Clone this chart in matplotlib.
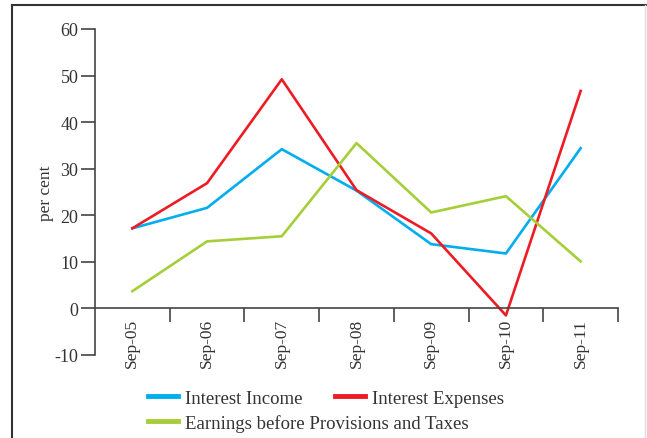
import matplotlib.pyplot as plt
from matplotlib.lines import Line2D

plt.rcParams['font.family'] = ['Liberation Serif', 'DejaVu Serif']
plt.rcParams['axes.unicode_minus'] = False

# Data (per cent)
periods = ['Sep-05', 'Sep-06', 'Sep-07', 'Sep-08', 'Sep-09', 'Sep-10', 'Sep-11']
interest_income = [17.2, 21.6, 34.2, 25.3, 13.8, 11.8, 34.4]
interest_expenses = [17.2, 26.9, 49.2, 25.4, 16.1, -1.5, 46.7]
earnings_bpt = [3.7, 14.4, 15.5, 35.5, 20.6, 24.1, 10.1]

blue = '#00AEEF'
red = '#ED1C24'
green = '#A6CE39'
txt = '#333333'

fig = plt.figure(figsize=(6.47, 4.39), dpi=100)
W, H = 647, 439
ax = fig.add_axes([95 / W, 1 - 356 / H, (618 - 95) / W, (356 - 30) / H])

x = list(range(len(periods)))
ax.plot(x, interest_income, color=blue, lw=1.9)
ax.plot(x, interest_expenses, color=red, lw=1.9)
ax.plot(x, earnings_bpt, color=green, lw=1.9)

ax.set_xlim(-0.5, len(periods) - 0.5)
ax.set_ylim(-10, 60)
ax.set_yticks(range(-10, 61, 10))

# x axis sits on zero, ticks between categories
ax.spines['top'].set_visible(False)
ax.spines['right'].set_visible(False)
ax.spines['bottom'].set_position(('data', 0))
for s in ['left', 'bottom']:
    ax.spines[s].set_color('#444444')
    ax.spines[s].set_linewidth(1.2)

ax.set_xticks(x)
ax.set_xticklabels(periods, rotation=90, fontsize=12.5, color=txt)
ax.tick_params(axis='x', which='major', length=0, pad=7)
ax.set_xticks([i + 0.5 for i in x], minor=True)
ax.tick_params(axis='x', which='minor', length=10, width=1.2, color='#444444',
               direction='out')
ax.tick_params(axis='y', length=10, width=1.2, color='#444444', labelsize=13,
               labelcolor=txt, pad=2)
ax.set_ylabel('per cent', fontsize=12.5, color=txt)
ax.yaxis.set_label_coords(-0.078, 0.5)

# legend laid out as in the reference
leg1 = fig.legend(handles=[Line2D([], [], color=blue, lw=3.5),
                           Line2D([], [], color=red, lw=3.5)],
                  labels=['Interest Income', 'Interest Expenses'], ncol=2,
                  loc='center left', bbox_to_anchor=(131 / W, 1 - 399 / H),
                  frameon=False, fontsize=13.5, handlelength=1.6,
                  handletextpad=0.4, columnspacing=1.7, labelcolor=txt)
leg2 = fig.legend(handles=[Line2D([], [], color=green, lw=3.5)],
                  labels=['Earnings before Provisions and Taxes'],
                  loc='center left', bbox_to_anchor=(131 / W, 1 - 424 / H),
                  frameon=False, fontsize=13.5, handlelength=1.6,
                  handletextpad=0.4, labelcolor=txt)

# outer frame
fig.add_artist(Line2D([12 / W, 12 / W], [0, 1 - 6 / H], color='#333333', lw=1.5))
fig.add_artist(Line2D([12 / W, 1], [1 - 6 / H, 1 - 6 / H], color='#333333', lw=1.5))
fig.add_artist(Line2D([645 / W, 645 / W], [0, 1 - 6 / H], color='#dddddd', lw=1))

fig.savefig('out.png', dpi=100)
